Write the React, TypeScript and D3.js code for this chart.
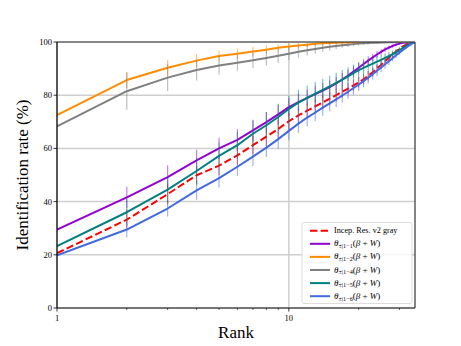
import React from 'react';
import * as d3 from 'd3';

const ranks = [1,2,3,4,5,6,7,8,9,10,11,12,13,14,15,16,17,18,19,20,21,22,23,24,25,26,27,28,29,30,31,32,33,34,35];

const redVals = [20.6,33.2,42.8,49.9,53.5,57.4,61.2,64.4,67.3,70.2,72.4,74.2,75.8,77.3,78.7,80,81.3,82.5,83.7,84.8,86,87.3,88.6,90,91.4,92.8,94.1,95.3,96.4,97.4,98.3,99,99.5,99.8,100];
const purpleVals = [29.5,41.6,49.2,55.5,60,63.2,66.8,69.9,72.8,75.5,77.4,79,80.4,81.7,83,84.4,85.9,87.4,88.9,90.3,91.7,93,94.2,95.3,96.3,97.2,97.9,98.5,99,99.4,99.7,99.85,99.95,100,100];
const orangeVals = [72.5,85.7,90.3,93,94.7,95.6,96.4,97.1,97.8,98.3,98.7,99,99.3,99.5,99.6,99.7,99.8,99.85,99.9,99.95,100,100,100,100,100,100,100,100,100,100,100,100,100,100,100];
const grayVals = [68.3,81.5,86.6,89.5,91.2,92.2,93.1,94,94.8,95.6,96.3,96.9,97.4,97.8,98.2,98.5,98.8,99,99.2,99.4,99.5,99.6,99.7,99.75,99.8,99.85,99.9,99.92,99.95,99.97,100,100,100,100,100];
const tealVals = [23.3,36,44.5,51.5,57.2,61.2,65.5,68.7,71.8,74.8,77.2,79,80.6,82,83.3,84.6,85.9,87.1,88.3,89.4,90.3,91.1,91.9,92.6,93.3,94,94.7,95.4,96.1,96.9,97.7,98.5,99.2,99.7,100];
const blueVals = [19.8,29.5,37.4,44.2,48.8,53.1,56.9,60.3,63.5,66.6,69.3,71.6,73.5,75.3,76.9,78.4,79.9,81.3,82.7,84,85.3,86.6,87.9,89.2,90.4,91.6,92.8,93.9,95,96,97,97.9,98.7,99.4,100];

const redStd = [0,4,4,3.5,3.5,3.5,3.5,3.5,3.5,3.2,3,3,2.8,2.6,2.5,2.4,2.3,2.2,2.1,2,1.9,1.8,1.7,1.6,1.5,1.4,1.2,1,0.8,0.6,0.5,0.4,0.3,0.1,0];
const purpleStd = [0,4,4.5,4,4,4,4,3.8,3.6,3.4,3.2,3,3,2.8,2.6,2.5,2.4,2.2,2,1.9,1.8,1.6,1.4,1.2,1,0.9,0.8,0.6,0.5,0.4,0.3,0.2,0.1,0,0];
const orangeStd = [0,3,3,2.5,2,2,1.8,1.6,1.4,1.2,1,0.9,0.8,0.7,0.6,0.5,0.4,0.3,0.2,0.1,0,0,0,0,0,0,0,0,0,0,0,0,0,0,0];
const grayStd = [0,7,5,4,3.5,3,3,2.8,2.6,2.4,2.2,2,1.8,1.6,1.4,1.2,1,0.9,0.8,0.7,0.6,0.5,0.4,0.3,0.2,0.2,0.1,0.1,0,0,0,0,0,0,0];
const tealStd = [0,5,5,5,5,5,5,5,5,5,4.8,4.6,4.4,4.2,4,3.8,3.6,3.4,3.2,3,2.8,2.6,2.4,2.2,2,1.8,1.6,1.4,1.2,1,0.8,0.6,0.4,0.2,0];
const blueStd = [0,3,3,3.5,3.5,3.5,3.5,3.5,3.5,3.5,3.4,3.3,3.2,3,2.9,2.8,2.7,2.6,2.5,2.4,2.3,2.2,2.1,2,1.8,1.6,1.4,1.2,1,0.8,0.6,0.4,0.3,0.1,0];

const subscripts = ['±|1−1', '±|1−2', '±|1−4', '±|1−5', '±|1−6'];
const yTicks = [0, 20, 40, 60, 80, 100];
const xMajor = [1, 10];
const xMinor = [2,3,4,5,6,7,8,9,20,30];

const series = [
  { name: 'Incep. Res. v2 gray', vals: redVals, std: redStd, color: '#ff0000', dashed: true, sub: null },
  { name: 'p1', vals: purpleVals, std: purpleStd, color: '#9400d3', dashed: false, sub: subscripts[0] },
  { name: 'p2', vals: orangeVals, std: orangeStd, color: '#ff8c00', dashed: false, sub: subscripts[1] },
  { name: 'p4', vals: grayVals, std: grayStd, color: '#808080', dashed: false, sub: subscripts[2] },
  { name: 'p5', vals: tealVals, std: tealStd, color: '#008080', dashed: false, sub: subscripts[3] },
  { name: 'p6', vals: blueVals, std: blueStd, color: '#4169e1', dashed: false, sub: subscripts[4] },
];

const L = 57, R = 415, T = 42, B = 308;
const FONT = '"Liberation Serif", "DejaVu Serif", serif';

export default function App() {
  const x = d3.scaleLog().domain([1, 35]).range([L, R]);
  const y = d3.scaleLinear().domain([0, 100]).range([B, T]);
  const line = d3.line<number>().x((_, i) => x(ranks[i])).y((v) => y(v));

  return (
    <svg width={461} height={346} style={{ position: 'absolute', left: 0, top: 0 }} fontFamily={FONT}>
      <rect x={0} y={0} width={461} height={346} fill="#fff" />
      <defs>
        <clipPath id="plot"><rect x={L} y={T} width={R - L} height={B - T} /></clipPath>
      </defs>
      {yTicks.map((t) => (
        <line key={'gy' + t} x1={L} x2={R} y1={y(t)} y2={y(t)} stroke="#cfcfcf" strokeWidth={1.5} />
      ))}
      {xMajor.map((t) => (
        <line key={'gx' + t} x1={x(t)} x2={x(t)} y1={T} y2={B} stroke="#cfcfcf" strokeWidth={1.5} />
      ))}
      <g clipPath="url(#plot)">
        {series.map((s) => (
          <g key={s.name}>
            {s.vals.map((v, i) =>
              s.std[i] > 0 ? (
                <line key={i} x1={x(ranks[i])} x2={x(ranks[i])} y1={y(v - s.std[i])} y2={y(v + s.std[i])}
                  stroke={s.color} strokeOpacity={0.5} strokeWidth={1.2} />
              ) : null
            )}
            <path d={line(s.vals) || ''} fill="none" stroke={s.color} strokeWidth={2}
              strokeDasharray={s.dashed ? '7.4 3.2' : undefined} strokeLinejoin="round" />
          </g>
        ))}
      </g>
      <line x1={L} x2={R} y1={T} y2={T} stroke="#333" strokeWidth={1.2} />
      <line x1={L} x2={R} y1={B} y2={B} stroke="#555" strokeWidth={1.5} />
      <line x1={L} x2={L} y1={T} y2={B} stroke="#000" strokeWidth={1.2} />
      <line x1={R} x2={R} y1={T} y2={B} stroke="#333" strokeWidth={1.2} />
      {yTicks.map((t) => (
        <g key={'yt' + t}>
          <line x1={L - 3.5} x2={L} y1={y(t)} y2={y(t)} stroke="#000" strokeWidth={0.8} />
          <text x={L - 5} y={y(t) + 3} fontSize={8.5} textAnchor="end" fill="#000">{t}</text>
        </g>
      ))}
      {xMajor.map((t) => (
        <g key={'xt' + t}>
          <line x1={x(t)} x2={x(t)} y1={B} y2={B + 3.5} stroke="#000" strokeWidth={0.8} />
          <text x={x(t)} y={B + 13} fontSize={8.5} textAnchor="middle" fill="#000">{t}</text>
        </g>
      ))}
      {xMinor.map((t) => (
        <line key={'xm' + t} x1={x(t)} x2={x(t)} y1={B} y2={B + 2} stroke="#000" strokeWidth={0.6} />
      ))}
      <text x={(L + R) / 2} y={338} fontSize={17} textAnchor="middle" fill="#000">Rank</text>
      <text transform={`translate(28,${(T + B) / 2}) rotate(-90)`} fontSize={17} textAnchor="middle" fill="#000">
        Identification rate (%)
      </text>
      <rect x={302} y={222.5} width={110} height={81} rx={2} fill="#fff" fillOpacity={0.85} stroke="#d5d5d5" strokeWidth={0.8} />
      {series.map((s, i) => {
        const yy = 230.7 + i * 13.1;
        return (
          <g key={'lg' + s.name}>
            <line x1={310} x2={330} y1={yy} y2={yy} stroke={s.color} strokeWidth={2}
              strokeDasharray={s.dashed ? '7.4 3.2' : undefined} />
            {s.sub === null ? (
              <text x={334} y={yy + 2.5} fontSize={8.2} fill="#000">{s.name}</text>
            ) : (
              <text x={334} y={yy + 2.5} fontSize={9} fill="#000">
                <tspan fontStyle="italic">θ</tspan>
                <tspan fontSize={6.2} dy={1.8}>{s.sub}</tspan>
                <tspan dy={-1.8}>(</tspan>
                <tspan fontStyle="italic">β</tspan>
                <tspan> + </tspan>
                <tspan fontStyle="italic">W</tspan>
                <tspan>)</tspan>
              </text>
            )}
          </g>
        );
      })}
    </svg>
  );
}
